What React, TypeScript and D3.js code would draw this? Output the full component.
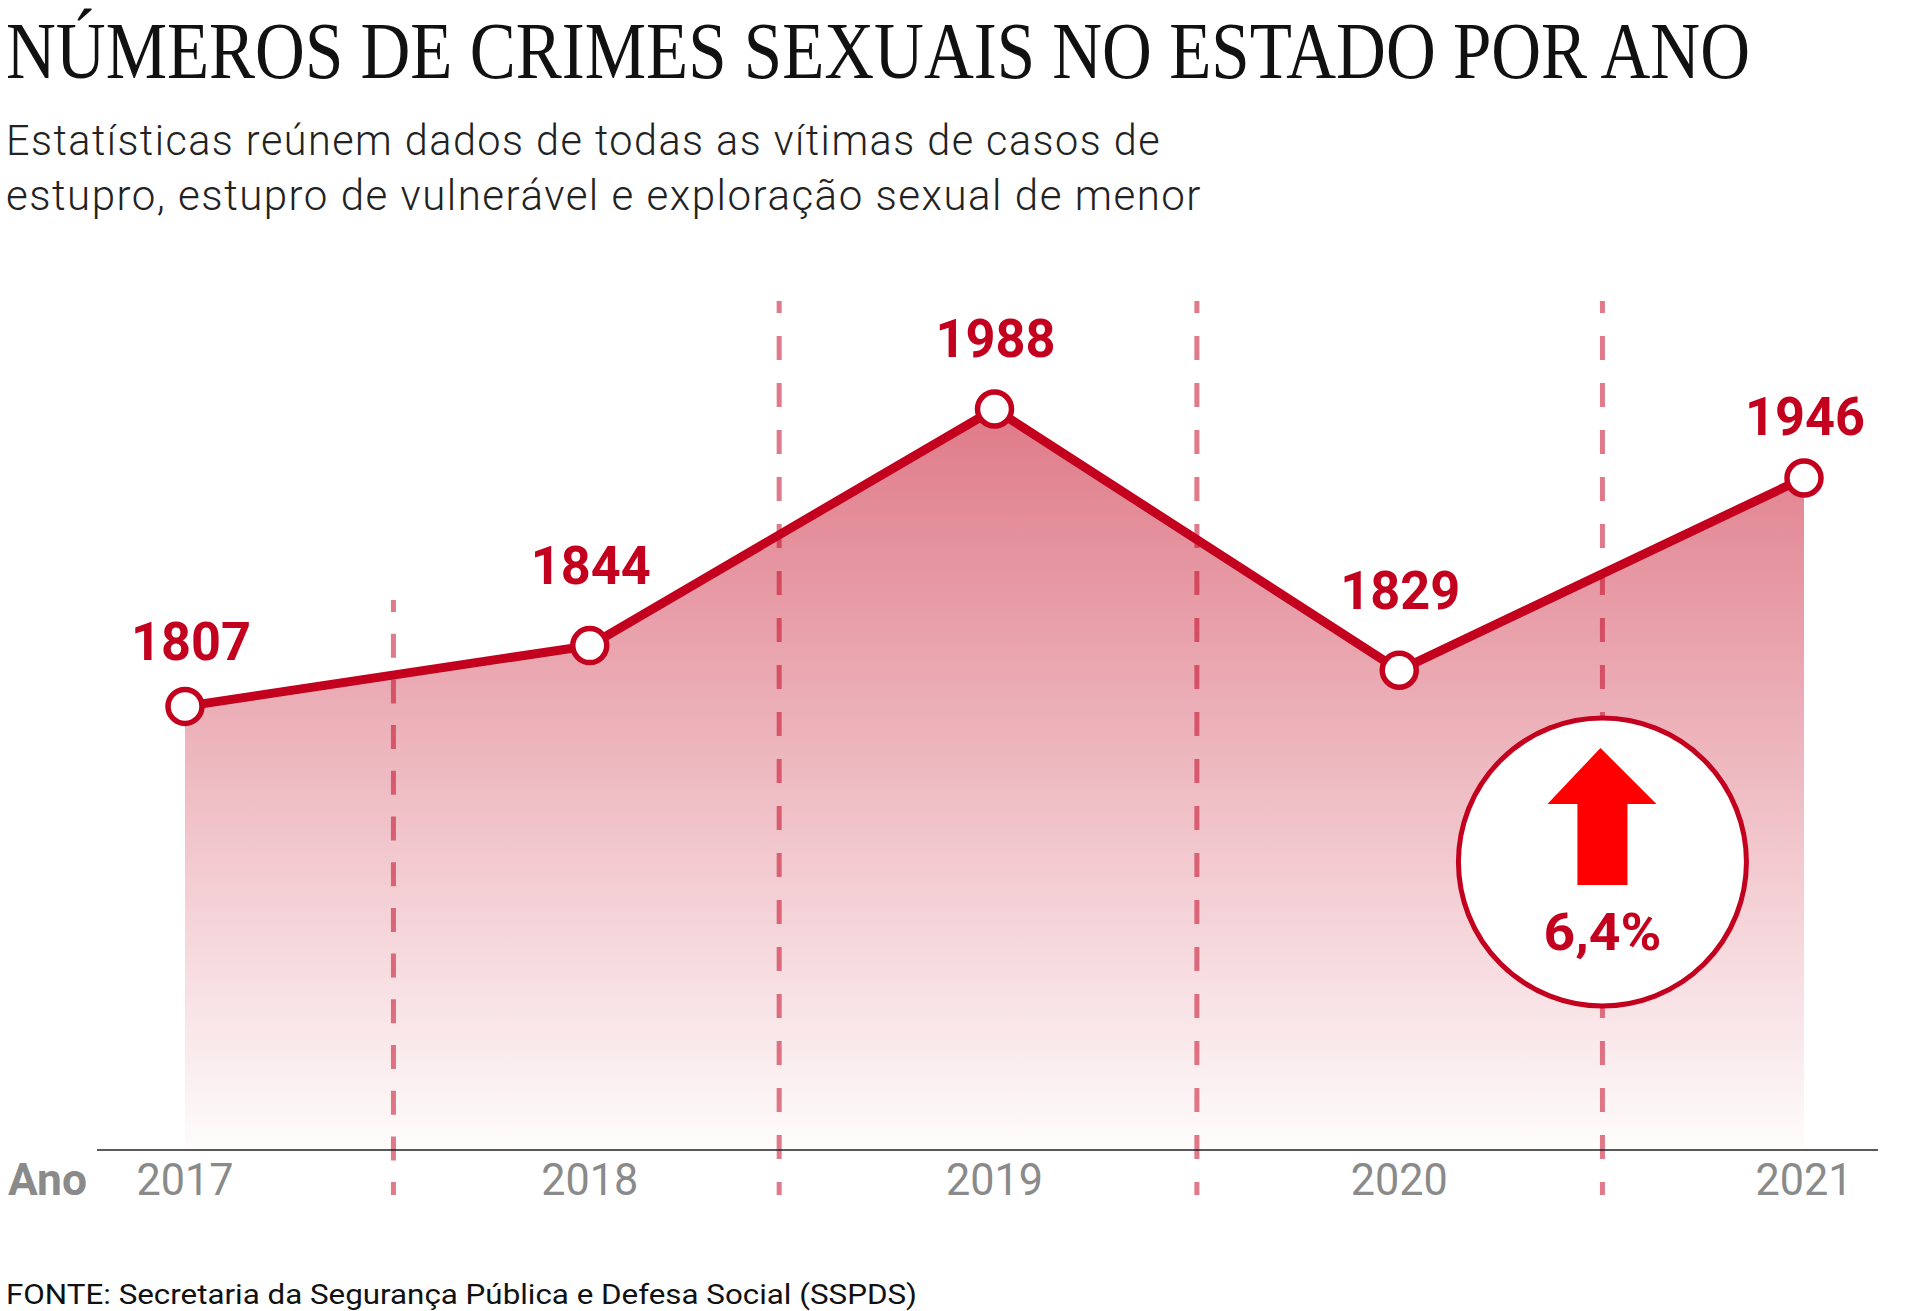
import React from "react";
import * as d3 from "d3";

const years = ["2017", "2018", "2019", "2020", "2021"];
const totals = [1807, 1844, 1988, 1829, 1946];
const dividerYears = [2017.515, 2018.468, 2019.5, 2020.502];
const titleText = "NÚMEROS DE CRIMES SEXUAIS NO ESTADO POR ANO";
const subtitleLines = [
  "Estatísticas reúnem dados de todas as vítimas de casos de",
  "estupro, estupro de vulnerável e exploração sexual de menor",
];
const sourceText = "FONTE: Secretaria da Segurança Pública e Defesa Social (SSPDS)";
const axisName = "Ano";
const changeText = "6,4%";

// layout only (not data)
const dividerTops = [600, 301, 301, 301];
const dividerDashes = ["24 21.7", "24 23", "24 23", "24 23"];
const labelGaps = [46, 62, 52, 61, 43];
const labelShifts = [6, 1, 1, 1, 1];
const subtitleWidths = [1155, 1196];
const subtitleBaselines = [155, 210];

const RED = "#c3001e";
const DIN = "Roboto, 'Noto Sans', sans-serif";
const TITLE_SCALE = 0.74;

const x = d3.scaleLinear().domain([2017, 2021]).range([185, 1804]);
const y = d3.scaleLinear().domain([1537, 1988]).range([1150, 409]);
const pts = totals.map((v, i) => ({ v, yr: 2017 + i }));
const line = d3.line<any>().x((d) => x(d.yr)).y((d) => y(d.v));
const area = d3.area<any>().x((d) => x(d.yr)).y0(y(1537)).y1((d) => y(d.v));

const cx = x(2020.502);
const cy = 862;
const arrow = d3.path();
arrow.moveTo(cx - 2, 748);
arrow.lineTo(cx + 54, 804);
arrow.lineTo(cx + 25, 804);
arrow.lineTo(cx + 25, 885);
arrow.lineTo(cx - 25, 885);
arrow.lineTo(cx - 25, 804);
arrow.lineTo(cx - 55, 804);
arrow.closePath();

export default function App() {
  return (
    <svg width={1920} height={1311} style={{ position: "absolute", left: 0, top: 0, background: "#fff" }}>
      <defs>
        <linearGradient id="fade" gradientUnits="userSpaceOnUse" x1={0} x2={0} y1={409} y2={1150}>
          <stop offset="0" stopColor="#df7a88" />
          <stop offset="1" stopColor="#df7a88" stopOpacity={0.02} />
        </linearGradient>
      </defs>
      <g transform={`translate(6,78) scale(${TITLE_SCALE},1)`}>
        <text x={0} y={0} fontFamily="'Liberation Serif', serif" fontSize={80} fill="#111" textLength={1744 / TITLE_SCALE} lengthAdjust="spacingAndGlyphs">{titleText}</text>
      </g>
      {subtitleLines.map((s, i) => (
        <text key={i} x={6} y={subtitleBaselines[i]} fontFamily={DIN} fontWeight={300} fontSize={42} letterSpacing={1.5} fill="#222" textLength={subtitleWidths[i]} lengthAdjust="spacingAndGlyphs">{s}</text>
      ))}
      <path d={area(pts) as string} fill="url(#fade)" />
      {dividerYears.map((d, i) => (
        <line key={i} x1={x(d)} x2={x(d)} y1={dividerTops[i]} y2={1195} stroke={RED} strokeOpacity={0.52} strokeWidth={5} strokeDasharray={dividerDashes[i]} strokeDashoffset={12} />
      ))}
      <line x1={97} x2={1878} y1={1150} y2={1150} stroke="#222" strokeWidth={1.5} />
      <path d={line(pts) as string} fill="none" stroke={RED} strokeWidth={9} />
      {pts.map((p, i) => (
        <g key={i}>
          <circle cx={x(p.yr)} cy={y(p.v)} r={17} fill="#fff" stroke={RED} strokeWidth={5.5} />
          <text x={x(p.yr) + labelShifts[i]} y={y(p.v) - labelGaps[i]} textAnchor="middle" fontFamily={DIN} fontWeight={700} fontSize={54} fill={RED} textLength={120} lengthAdjust="spacingAndGlyphs">{p.v}</text>
          <text x={x(p.yr)} y={1195} textAnchor="middle" fontFamily={DIN} fontWeight={400} fontSize={45} fill="#8a8a8a" textLength={97} lengthAdjust="spacingAndGlyphs">{years[i]}</text>
        </g>
      ))}
      <text x={8} y={1195} fontFamily={DIN} fontWeight={700} fontSize={44} fill="#8a8a8a" textLength={79} lengthAdjust="spacingAndGlyphs">{axisName}</text>
      <circle cx={cx} cy={cy} r={144} fill="#fff" stroke={RED} strokeWidth={5} />
      <path d={arrow.toString()} fill="#fe0000" />
      <text x={cx} y={950} textAnchor="middle" fontFamily={DIN} fontWeight={700} fontSize={52} fill={RED} textLength={118} lengthAdjust="spacingAndGlyphs">{changeText}</text>
      <text x={6} y={1304} fontFamily={DIN} fontSize={28} fill="#111" textLength={911} lengthAdjust="spacingAndGlyphs">{sourceText}</text>
    </svg>
  );
}
